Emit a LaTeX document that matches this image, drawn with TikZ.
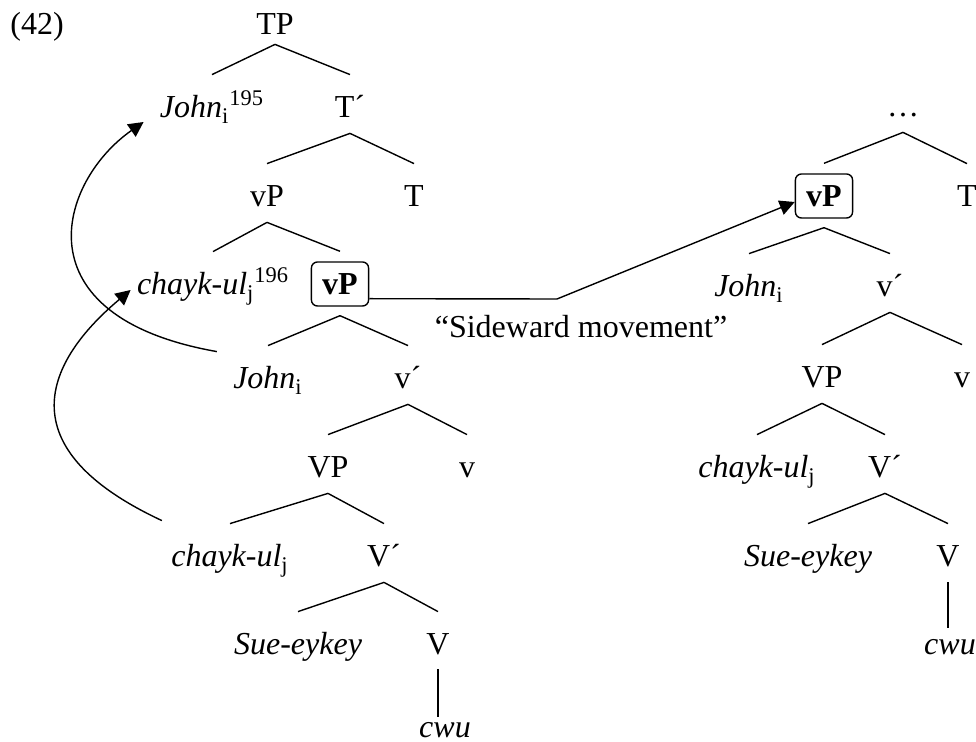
\documentclass[tikz,border=0pt]{standalone}
\usepackage{fontspec}
\setmainfont{Liberation Serif}
\usepackage{tikz}
\usetikzlibrary{arrows.meta}

\begin{document}
\begin{tikzpicture}[x=0.5pt,y=-0.5pt,
    font=\fontsize{16}{19}\selectfont,
    lbl/.style={inner sep=0pt, text height=10.5pt, text depth=4.5pt, anchor=base},
    headbox/.style={draw, rounded corners=3pt, line width=0.7pt, inner xsep=5.4pt, inner ysep=4.5pt,
                    text height=12pt, text depth=1pt, anchor=base, font=\fontsize{16}{19}\selectfont\bfseries},
    branch/.style={line width=0.7pt},
    movearrow/.style={line width=0.7pt, -{Triangle[length=7.5pt,width=7.5pt]}}]
    \useasboundingbox (0,0) rectangle (976,742);

    \node[lbl] (ex) at (37,35) {(42)};

    % left tree
    \node[lbl] (TP) at (275,35) {TP};
    \node[lbl] (JohnA) at (212,118) {\textit{John}\textsubscript{i}\textsuperscript{195}};
    \node[lbl] (TbarA) at (350,118) {T´};
    \node[lbl] (vPA) at (267,207) {vP};
    \node[lbl] (TA) at (414,207) {T};
    \node[lbl] (chaykA) at (213,295) {\textit{chayk-ul}\textsubscript{j}\textsuperscript{196}};
    \node[headbox] (vPboxA) at (340,295) {vP};
    \node[lbl] (JohnB) at (268,389) {\textit{John}\textsubscript{i}};
    \node[lbl] (vbarA) at (408,389) {v´};
    \node[lbl] (VPA) at (328,478) {VP};
    \node[lbl] (vA) at (467,478) {v};
    \node[lbl] (chaykB) at (230,567) {\textit{chayk-ul}\textsubscript{j}};
    \node[lbl] (VbarA) at (384,567) {V´};
    \node[lbl] (SueA) at (298,655) {\textit{Sue-eykey}};
    \node[lbl] (VA) at (438,655) {V};
    \node[lbl] (cwuA) at (445,738) {\textit{cwu}};

    % right tree
    \node[lbl] (dots) at (903,117) {…};
    \node[headbox] (vPboxB) at (824,207) {vP};
    \node[lbl] (TB) at (967,207) {T};
    \node[lbl] (JohnC) at (749,297) {\textit{John}\textsubscript{i}};
    \node[lbl] (vbarB) at (890,297) {v´};
    \node[lbl] (VPB) at (822,388) {VP};
    \node[lbl] (vB) at (962,388) {v};
    \node[lbl] (chaykC) at (757,478) {\textit{chayk-ul}\textsubscript{j}};
    \node[lbl] (VbarB) at (885,478) {V´};
    \node[lbl] (SueB) at (808,567) {\textit{Sue-eykey}};
    \node[lbl] (VB) at (948,567) {V};
    \node[lbl] (cwuB) at (950,655) {\textit{cwu}};

    \node[lbl] (sideward) at (581,338) {“Sideward movement”};

    \draw[branch] (TP.south) -- ([yshift=11pt]JohnA.north);
    \draw[branch] (TP.south) -- ([yshift=11pt]TbarA.north);
    \foreach \p/\c in {TbarA/vPA, TbarA/TA, vPA/chaykA, vbarA/VPA, vbarA/vA, VPA/chaykB,
                       VPA/VbarA, VbarA/SueA, VbarA/VA, dots/TB, vbarB/VPB, vbarB/vB,
                       VPB/chaykC, VPB/VbarB, VbarB/SueB, VbarB/VB}
      \draw[branch] ([yshift=-3pt]\p.south) -- ([yshift=11pt]\c.north);
    \foreach \p/\c in {vPA/vPboxA, dots/vPboxB}
      \draw[branch] ([yshift=-3pt]\p.south) -- ([yshift=5pt]\c.north);
    \foreach \p/\c in {vPboxA/JohnB, vPboxA/vbarA, vPboxB/JohnC, vPboxB/vbarB}
      \draw[branch] ([yshift=-4.5pt]\p.south) -- ([yshift=11pt]\c.north);
    \draw[branch] ([yshift=-2.5pt]VA.south) -- (VA.south |- cwuA.north);
    \draw[branch] ([yshift=-3pt]VB.south) -- ([yshift=3pt]VB.south |- cwuB.north);

    % movement arrows
    \draw[movearrow] ([shift={(-8pt,8pt)}]JohnB.north west)
        to[out=170,in=215,out looseness=2.15,in looseness=1.1]
        ([shift={(-8pt,-5pt)}]JohnA.west);
    \draw[movearrow] ([shift={(-4.5pt,12.5pt)}]chaykB.north west)
        to[out=155,in=220,out looseness=2,in looseness=1.1]
        ([shift={(-3pt,-0.5pt)}]chaykA.west);
    \coordinate (bend) at (557,299);
    \draw[movearrow] ([yshift=4pt]vPboxA.south east) -- (bend) -- ([yshift=-3pt]vPboxB.west);
\end{tikzpicture}
\end{document}
